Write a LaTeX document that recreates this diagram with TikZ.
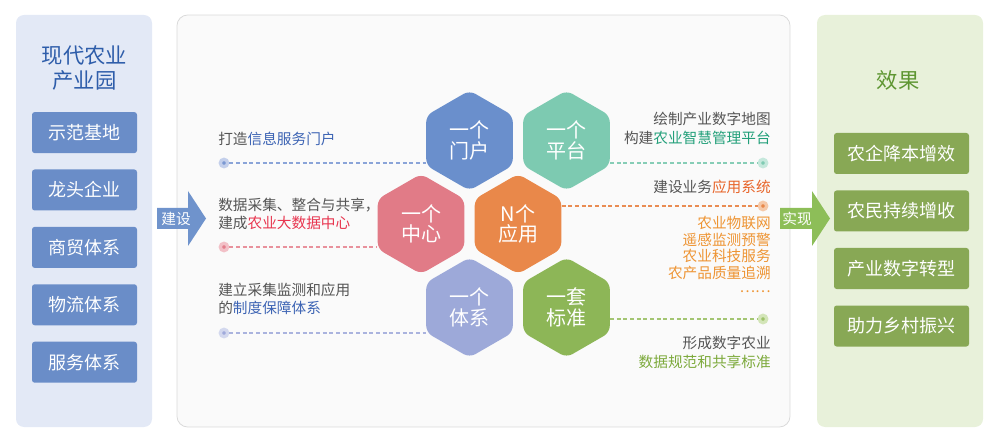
\documentclass[tikz,border=0pt]{standalone}
\usepackage{fontspec}
\setmainfont{Noto Sans CJK SC}
\usetikzlibrary{shapes.geometric}

\definecolor{notegray}{HTML}{555555}
\definecolor{parkpanel}{HTML}{E3E9F6}
\definecolor{parktitle}{HTML}{2E5DAA}
\definecolor{parkblue}{HTML}{6A8DC8}
\definecolor{midpanel}{HTML}{FAFAFA}
\definecolor{midborder}{HTML}{DADADA}
\definecolor{effectpanel}{HTML}{E8F1DA}
\definecolor{effecttitle}{HTML}{5E9632}
\definecolor{effectgreen}{HTML}{88A855}
\definecolor{buildarrow}{HTML}{6F93CC}
\definecolor{gainarrow}{HTML}{8DBE58}
\definecolor{hexblue}{HTML}{6A8FCC}
\definecolor{hexteal}{HTML}{7DCAB1}
\definecolor{hexpink}{HTML}{E17B87}
\definecolor{hexorange}{HTML}{E9884A}
\definecolor{hexlav}{HTML}{9DA9D9}
\definecolor{hexgreen}{HTML}{8DB657}
\definecolor{txtblue}{HTML}{3D64B4}
\definecolor{txtred}{HTML}{E8354F}
\definecolor{txtteal}{HTML}{23A07A}
\definecolor{txtorange}{HTML}{E8652A}
\definecolor{txtlist}{HTML}{EE9433}
\definecolor{txtgreen}{HTML}{7DAA3C}
% dots: center / ring / line
\definecolor{dotblue}{HTML}{7B98D2}
\definecolor{ringblue}{HTML}{C3CFEB}
\definecolor{lineblue}{HTML}{8AA4D8}
\definecolor{dotpink}{HTML}{E47E8C}
\definecolor{ringpink}{HTML}{F2C0C7}
\definecolor{linepink}{HTML}{E8919C}
\definecolor{dotlav}{HTML}{A0AADB}
\definecolor{ringlav}{HTML}{D3D8EE}
\definecolor{linelav}{HTML}{AAB3DE}
\definecolor{dotteal}{HTML}{80CBB3}
\definecolor{ringteal}{HTML}{C5E8DC}
\definecolor{lineteal}{HTML}{86CDB6}
\definecolor{dotorange}{HTML}{E8884A}
\definecolor{ringorange}{HTML}{F5C9A9}
\definecolor{lineorange}{HTML}{E98C52}
\definecolor{dotgreen}{HTML}{9DC26A}
\definecolor{ringgreen}{HTML}{D3E5B8}
\definecolor{linegreen}{HTML}{A3C572}

\begin{document}
\begin{tikzpicture}[x=0.75pt,y=-0.75pt,
		parkbox/.style={fill=parkblue,text=white,minimum width=78.75pt,minimum height=30.75pt,
			rounded corners=2pt,inner sep=0,font=\fontsize{13.5}{14}\selectfont},
		effectbox/.style={fill=effectgreen,text=white,minimum width=101.25pt,minimum height=30.75pt,
			rounded corners=2pt,inner sep=0,font=\fontsize{13.5}{14}\selectfont},
		hexcell/.style={regular polygon,regular polygon sides=6,shape border rotate=30,
			minimum size=75pt,inner sep=0,rounded corners=5pt,text=white,align=center,
			font=\fontsize{15}{15.5}\selectfont},
		linkdot/.style 2 args={circle,inner sep=0,minimum size=5.5pt,line width=2.5pt,fill=#1,draw=#2},
		linkline/.style={dash pattern=on 3pt off 2pt,line width=0.8pt},
		note/.style={inner sep=0,text=notegray,font=\fontsize{11}{13.5}\selectfont},
		arrowtext/.style={inner sep=0,text=white,font=\fontsize{11}{12}\selectfont}]
	\useasboundingbox (0,0) rectangle (1000,442);
	\def\dotL{224}
	\def\dotR{763}

	% Panels
	\fill[parkpanel,rounded corners=6pt] (16,15) rectangle (152,427);
	\filldraw[fill=midpanel,draw=midborder,line width=0.6pt,rounded corners=8pt] (177,15) rectangle (790,427);
	\fill[effectpanel,rounded corners=6pt] (817,15) rectangle (983,427);

	% Park
	\node[text=parktitle,align=center,font=\fontsize{16}{19}\selectfont] (parktitle) at (84.5,68) {现代农业\\产业园};
	\foreach \i/\txt in {1/示范基地,2/龙头企业,3/商贸体系,4/物流体系,5/服务体系}{
			\node[parkbox] (park\i) at (84.5,{75.2+57.4*\i}) {\txt};
		}

	% Effects
	\node[text=effecttitle,font=\fontsize{16}{18}\selectfont] (effecttitle) at (898,80) {效果};
	\foreach \i/\txt in {1/农企降本增效,2/农民持续增收,3/产业数字转型,4/助力乡村振兴}{
			\node[effectbox] (effect\i) at (901.5,{96+57.5*\i}) {\txt};
		}

	% Arrows
	\fill[buildarrow] (157,208) -- (188,208) -- (188,191) -- (206,218.5) -- (188,246) -- (188,229) -- (157,229) -- cycle;
	\node[arrowtext] (build) at (176,218.5) {建设};
	\fill[gainarrow] (780,208) -- (812,208) -- (812,191) -- (830,218.5) -- (812,246) -- (812,229) -- (780,229) -- cycle;
	\node[arrowtext] (gain) at (797,218.5) {实现};

	% Hexagons
	\foreach \name/\x/\y/\col/\txt in {portal/469.5/140.5/hexblue/{一个\\门户},
			platform/566.5/140.5/hexteal/{一个\\平台},
			center/421/224/hexpink/{一个\\中心},
			apps/518/224/hexorange/{N个\\应用},
			system/469.5/307.5/hexlav/{一个\\体系},
			standard/566.5/307.5/hexgreen/{一套\\标准}}{
			\node[hexcell,fill=\col] (\name) at (\x,\y) {\txt};
		}

	% Left notes
	\node[note,anchor=west] (noteportal) at (218,139) {打造\textcolor{txtblue}{信息服务门户}};
	\node[note,anchor=west,align=left] (notecenter) at (218,214) {数据采集、整合与共享，\\建成\textcolor{txtred}{农业大数据中心}};
	\node[note,anchor=west,align=left] (notesystem) at (218,298.5) {建立采集监测和应用\\的\textcolor{txtblue}{制度保障体系}};

	% Right notes
	\node[note,anchor=east,align=right,font=\fontsize{11}{14.25}\selectfont] (noteplatform) at (771,128.5) {绘制产业数字地图\\构建\textcolor{txtteal}{农业智慧管理平台}};
	\node[note,anchor=east] (noteapps) at (771,187) {建设业务\textcolor{txtorange}{应用系统}};
	\node[note,anchor=east,align=right,text=txtlist,font=\fontsize{11}{12.5}\selectfont] (applist) at (771,248) {农业物联网\\遥感监测预警\\农业科技服务\\农产品质量追溯};
	\node[note,anchor=east,text=txtlist] (appmore) at (771,292) {……};
	\node[note,anchor=east,align=right,font=\fontsize{11}{14}\selectfont] (notestandard) at (771,352.5) {形成数字农业\\\textcolor{txtgreen}{数据规范和共享标准}};

	% Dots
	\node[linkdot={dotblue}{ringblue}] (dotportal) at (\dotL,163) {};
	\node[linkdot={dotpink}{ringpink}] (dotcenter) at (\dotL,247) {};
	\node[linkdot={dotlav}{ringlav}] (dotsystem) at (\dotL,333) {};
	\node[linkdot={dotteal}{ringteal}] (dotplatform) at (\dotR,163) {};
	\node[linkdot={dotorange}{ringorange}] (dotapps) at (\dotR,206) {};
	\node[linkdot={dotgreen}{ringgreen}] (dotstandard) at (\dotR,319) {};

	% Links
	\draw[linkline,lineblue] (dotportal) -- (dotportal -| portal.west);
	\draw[linkline,linepink] (dotcenter) -- (dotcenter -| center.west);
	\draw[linkline,linelav] (dotsystem) -- (dotsystem -| system.west);
	\draw[linkline,lineteal] (dotplatform -| platform.east) -- (dotplatform);
	\draw[linkline,lineorange] (dotapps -| apps.east) -- (dotapps);
	\draw[linkline,linegreen] (dotstandard -| standard.east) -- (dotstandard);
\end{tikzpicture}
\end{document}
